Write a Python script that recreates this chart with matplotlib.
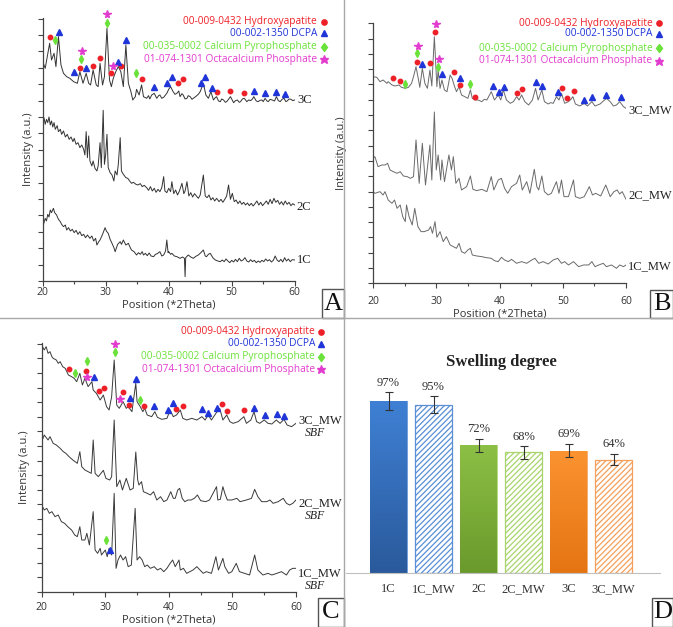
import numpy as np
import matplotlib
matplotlib.use("Agg")
import matplotlib.pyplot as plt
from matplotlib.lines import Line2D
from matplotlib.patches import Rectangle
from matplotlib.colors import LinearSegmentedColormap
from matplotlib.ticker import MultipleLocator

W, H = 673, 627
SANS = ["Open Sans", "DejaVu Sans"]
SERIF = ["Liberation Serif", "DejaVu Serif"]

# ---------------- XRD patterns: (2theta, intensity a.u.) ----------------
# panel A
a_3c = np.array([
    (20.0, 658), (20.4, 638), (21.1, 713), (21.4, 663), (21.8, 683), (22.1, 643), (22.5, 733), (22.9, 648),
    (23.3, 623), (23.8, 613), (24.3, 608), (24.9, 598), (25.5, 593), (25.9, 628), (26.4, 593), (26.9, 623),
    (27.3, 593), (27.6, 588), (28.0, 633), (28.5, 588), (28.8, 583), (29.1, 653), (29.5, 588), (29.8, 613),
    (30.2, 758), (30.6, 603), (30.9, 583), (31.2, 608), (31.6, 628), (32.0, 643), (32.4, 628), (32.8, 583),
    (33.2, 708), (33.6, 593), (34.0, 568), (34.3, 543), (34.7, 553), (34.9, 575), (35.3, 558), (35.7, 588),
    (36.0, 553), (36.5, 548), (36.8, 556), (37.0, 546), (37.3, 558), (37.7, 563), (38.1, 548), (38.4, 556),
    (38.6, 558), (38.9, 548), (39.2, 551), (39.7, 563), (40.0, 575), (40.3, 583), (40.7, 568), (41.0, 560),
    (41.3, 563), (41.6, 570), (41.8, 553), (42.1, 562), (42.3, 558), (42.6, 546), (42.9, 548), (43.1, 556),
    (43.4, 553), (43.7, 545), (43.9, 548), (44.2, 552), (44.4, 555), (44.7, 560), (45.0, 568), (45.5, 593),
    (45.9, 558), (46.3, 548), (46.7, 568), (47.1, 543), (47.4, 550), (47.6, 553), (47.9, 540), (48.2, 538),
    (48.4, 546), (48.7, 543), (49.0, 536), (49.2, 538), (49.5, 545), (49.8, 553), (50.3, 535), (50.6, 541),
    (50.9, 543), (51.2, 536), (51.4, 538), (51.7, 546), (52.0, 548), (52.4, 538), (52.7, 543), (53.0, 541),
    (53.3, 546), (53.5, 553), (53.9, 540), (54.2, 538), (54.5, 542), (54.8, 543), (55.0, 538), (55.3, 548),
    (55.6, 540), (55.8, 538), (56.1, 545), (56.4, 543), (56.8, 540), (57.1, 553), (57.4, 541), (57.7, 538),
    (58.0, 545), (58.3, 548), (58.6, 538), (58.8, 540), (59.1, 546), (59.4, 545), (59.7, 541), (60.0, 543)])
a_2c = np.array([
    (20.0, 478), (20.2, 490), (20.4, 470), (20.6, 485), (20.8, 475), (21.0, 492), (21.2, 468), (21.4, 480),
    (21.6, 462), (21.8, 475), (22.0, 455), (22.3, 466), (22.5, 448), (22.8, 455), (23.0, 440), (23.3, 450),
    (23.6, 432), (23.9, 440), (24.2, 425), (24.5, 432), (24.8, 418), (25.0, 428), (25.3, 410), (25.6, 415),
    (25.9, 400), (26.2, 408), (26.5, 395), (26.7, 378), (26.9, 448), (27.1, 370), (27.3, 435), (27.5, 360),
    (27.8, 345), (28.0, 360), (28.3, 338), (28.6, 330), (28.8, 345), (29.1, 415), (29.3, 340), (29.6, 512),
    (29.8, 350), (30.0, 380), (30.2, 440), (30.4, 340), (30.7, 325), (31.0, 318), (31.3, 300), (31.5, 330),
    (31.8, 318), (32.0, 350), (32.3, 430), (32.5, 330), (32.8, 320), (33.2, 310), (33.5, 308), (33.8, 300),
    (34.1, 293), (34.4, 296), (34.8, 290), (35.1, 288), (35.5, 292), (35.8, 283), (36.1, 287), (36.5, 280),
    (36.8, 272), (37.1, 283), (37.4, 270), (37.7, 278), (38.0, 266), (38.3, 275), (38.6, 268), (38.9, 280),
    (39.2, 313), (39.4, 270), (39.7, 265), (40.0, 278), (40.3, 268), (40.5, 298), (40.8, 262), (41.1, 273),
    (41.4, 258), (41.7, 270), (42.1, 293), (42.4, 262), (42.6, 270), (42.9, 298), (43.2, 255), (43.5, 265),
    (43.8, 252), (44.1, 262), (44.4, 255), (44.7, 248), (45.0, 258), (45.5, 318), (45.8, 255), (46.1, 250),
    (46.4, 258), (46.7, 243), (47.0, 250), (47.3, 240), (47.6, 248), (48.0, 238), (48.3, 245), (48.6, 236),
    (48.9, 245), (49.2, 255), (49.5, 288), (49.8, 245), (50.1, 263), (50.4, 238), (50.7, 243), (51.0, 232),
    (51.3, 240), (51.6, 230), (51.9, 236), (52.2, 228), (52.5, 234), (52.8, 226), (53.1, 233), (53.4, 225),
    (53.7, 232), (54.0, 240), (54.3, 228), (54.6, 236), (54.9, 226), (55.2, 233), (55.5, 240), (55.8, 230),
    (56.1, 245), (56.4, 232), (56.7, 248), (57.0, 236), (57.3, 242), (57.6, 230), (57.9, 238), (58.2, 228),
    (58.5, 240), (58.8, 230), (59.1, 236), (59.4, 226), (59.7, 232), (60.0, 228)])
a_1c = np.array([
    (20.0, 158), (20.2, 175), (20.4, 188), (20.6, 180), (20.8, 200), (21.0, 192), (21.2, 213), (21.4, 205),
    (21.7, 218), (21.9, 205), (22.2, 198), (22.5, 185), (22.8, 178), (23.0, 170), (23.3, 163), (23.6, 168),
    (23.8, 153), (24.1, 160), (24.4, 150), (24.7, 155), (25.0, 145), (25.3, 152), (25.6, 140), (25.9, 148),
    (26.2, 136), (26.5, 140), (26.8, 130), (27.1, 138), (27.5, 128), (27.8, 135), (28.1, 120), (28.4, 128),
    (28.6, 108), (28.9, 118), (29.1, 123), (29.5, 140), (29.9, 160), (30.1, 150), (30.4, 143), (30.7, 125),
    (31.0, 113), (31.3, 100), (31.5, 88), (31.9, 110), (32.3, 118), (32.5, 110), (32.8, 123), (33.2, 108),
    (33.6, 113), (33.9, 100), (34.1, 93), (34.5, 88), (34.9, 78), (35.2, 85), (35.5, 80), (35.8, 88),
    (36.0, 78), (36.3, 83), (36.6, 76), (36.9, 84), (37.2, 75), (37.6, 73), (37.9, 80), (38.2, 82),
    (38.6, 88), (38.9, 75), (39.2, 78), (39.5, 90), (39.7, 123), (39.9, 85), (40.0, 88), (40.3, 80),
    (40.5, 83), (40.9, 75), (41.3, 73), (41.6, 70), (41.8, 68), (42.2, 72), (42.5, 68), (42.6, 13),
    (42.7, 70), (43.1, 78), (43.5, 72), (43.9, 68), (44.3, 74), (44.7, 78), (45.1, 85), (45.5, 93),
    (45.8, 75), (46.0, 73), (46.3, 80), (46.6, 83), (47.0, 70), (47.4, 63), (47.8, 60), (48.2, 58),
    (48.5, 63), (48.8, 58), (49.1, 66), (49.4, 60), (49.7, 55), (50.0, 62), (50.3, 57), (50.6, 65),
    (50.9, 58), (51.2, 68), (51.5, 60), (51.8, 63), (52.1, 70), (52.4, 60), (52.7, 57), (53.0, 64),
    (53.3, 58), (53.6, 62), (53.9, 55), (54.2, 60), (54.5, 56), (54.8, 62), (55.1, 58), (55.4, 66),
    (55.7, 60), (56.0, 64), (56.3, 57), (56.6, 62), (56.9, 75), (57.2, 63), (57.5, 58), (57.8, 65),
    (58.1, 57), (58.4, 70), (58.7, 60), (59.0, 66), (59.3, 58), (59.6, 64), (60.0, 63)])

# panel B
b_3c = np.array([
    (20.0, 620), (20.6, 618), (21.1, 605), (21.6, 610), (22.2, 600), (22.4, 605), (23.0, 595), (23.5, 592),
    (24.1, 595), (24.5, 588), (25.1, 585), (25.6, 588), (26.1, 600), (26.4, 620), (26.8, 650), (27.2, 610),
    (27.4, 588), (27.8, 645), (28.2, 600), (28.6, 585), (29.0, 640), (29.3, 592), (29.7, 740), (30.1, 590),
    (30.3, 640), (30.6, 585), (30.9, 610), (31.3, 580), (31.7, 575), (32.2, 625), (32.5, 615), (32.9, 590),
    (33.2, 575), (33.6, 590), (34.0, 565), (34.5, 560), (35.0, 555), (35.4, 580), (35.7, 555), (36.1, 550),
    (36.6, 550), (37.2, 545), (37.6, 552), (38.0, 550), (38.7, 575), (39.2, 550), (39.8, 565), (40.2, 550),
    (40.6, 580), (41.1, 550), (41.7, 540), (42.2, 545), (42.7, 560), (43.1, 550), (43.5, 565), (44.0, 545),
    (44.6, 535), (45.2, 550), (45.7, 585), (46.1, 550), (46.7, 580), (47.1, 545), (47.7, 538), (48.1, 542),
    (48.5, 540), (49.0, 560), (49.4, 550), (49.8, 570), (50.3, 540), (50.9, 545), (51.3, 552), (51.6, 560),
    (52.0, 538), (52.7, 532), (53.4, 540), (53.9, 532), (54.6, 545), (55.1, 532), (55.9, 538), (56.6, 550),
    (56.9, 555), (57.5, 545), (58.0, 532), (58.5, 535), (59.0, 545), (59.6, 530), (60.0, 525)])
b_2c = np.array([
    (20.0, 375), (20.3, 380), (20.8, 350), (21.4, 355), (21.9, 355), (22.3, 360), (22.7, 340), (23.2, 335),
    (23.8, 330), (24.3, 335), (24.8, 322), (25.4, 320), (25.9, 315), (26.4, 320), (26.8, 430), (27.3, 300),
    (27.8, 420), (28.3, 295), (29.0, 415), (29.3, 310), (29.7, 514), (30.0, 340), (30.3, 385), (30.7, 310),
    (30.9, 370), (31.3, 305), (32.0, 385), (32.4, 340), (32.7, 380), (33.1, 300), (33.6, 315), (34.0, 280),
    (34.8, 290), (35.4, 322), (35.8, 282), (36.4, 278), (37.2, 282), (38.0, 275), (38.7, 320), (39.1, 280),
    (39.8, 310), (40.3, 315), (40.8, 285), (41.3, 270), (41.9, 290), (42.7, 300), (43.2, 325), (43.6, 280),
    (44.3, 305), (44.8, 270), (45.5, 342), (45.9, 290), (46.2, 280), (46.7, 322), (47.1, 275), (47.7, 265),
    (48.2, 270), (49.0, 305), (49.4, 270), (49.8, 310), (50.2, 260), (50.9, 260), (51.7, 310), (52.0, 260),
    (52.7, 255), (53.4, 260), (54.2, 290), (54.7, 265), (55.2, 270), (56.0, 262), (56.8, 295), (57.5, 260),
    (58.1, 275), (58.6, 280), (59.0, 268), (59.4, 275), (60.0, 252)])
b_1c = np.array([
    (20.0, 275), (20.3, 270), (21.1, 275), (21.6, 265), (21.9, 275), (22.4, 250), (23.0, 240), (23.4, 250),
    (23.8, 225), (24.3, 235), (24.7, 200), (25.1, 185), (25.3, 235), (25.7, 200), (26.2, 175), (26.6, 225),
    (27.1, 170), (27.6, 155), (28.1, 155), (28.8, 160), (29.1, 170), (29.4, 150), (29.8, 185), (30.1, 138),
    (30.6, 155), (31.1, 125), (31.6, 140), (32.2, 115), (32.7, 110), (33.2, 105), (33.6, 120), (34.0, 95),
    (34.5, 90), (35.0, 100), (35.4, 105), (35.7, 85), (36.4, 82), (37.2, 80), (37.9, 77), (38.7, 75),
    (39.2, 68), (39.8, 65), (40.3, 78), (40.8, 70), (41.4, 65), (41.9, 72), (42.7, 60), (43.5, 65),
    (44.3, 60), (45.1, 70), (45.6, 75), (46.2, 60), (46.9, 65), (47.7, 58), (48.5, 70), (49.2, 75),
    (49.8, 60), (50.3, 65), (50.9, 55), (51.7, 65), (52.5, 50), (53.3, 55), (54.1, 55), (54.6, 65),
    (55.1, 50), (55.7, 55), (56.4, 60), (56.9, 50), (57.7, 55), (58.5, 45), (59.0, 55), (59.6, 50), (60.0, 55)])

# panel C (after SBF)
c_3c = np.array([
    (20.0, 741), (20.4, 726), (20.7, 736), (21.0, 716), (21.3, 721), (21.6, 706), (21.8, 701), (22.3, 696),
    (22.6, 686), (22.9, 691), (23.3, 676), (23.7, 671), (24.2, 651), (24.7, 646), (25.1, 641), (25.5, 631),
    (26.0, 656), (26.4, 621), (26.8, 641), (27.3, 616), (27.9, 631), (28.1, 606), (28.6, 596), (29.2, 576),
    (29.7, 591), (30.2, 556), (30.6, 546), (31.0, 586), (31.4, 696), (31.8, 561), (32.2, 551), (32.8, 571),
    (33.3, 551), (33.6, 556), (34.2, 541), (34.4, 571), (34.8, 626), (35.0, 571), (35.5, 556), (35.9, 541),
    (36.2, 551), (36.6, 531), (37.3, 526), (37.8, 541), (38.2, 524), (38.9, 518), (39.7, 521), (40.2, 546),
    (40.7, 526), (41.2, 531), (41.8, 546), (42.2, 521), (42.8, 516), (43.6, 521), (44.4, 516), (45.2, 526),
    (45.7, 516), (46.2, 531), (46.7, 516), (47.4, 536), (48.0, 551), (48.5, 516), (49.1, 531), (49.6, 511),
    (50.1, 506), (50.9, 511), (51.8, 526), (52.2, 506), (52.9, 516), (53.4, 541), (53.8, 511), (54.3, 506),
    (55.0, 516), (55.6, 506), (56.2, 504), (56.9, 516), (57.5, 506), (58.1, 518), (58.6, 501), (59.3, 496),
    (60.0, 506)])
c_2c = np.array([
    (20.0, 451), (20.4, 471), (21.0, 456), (21.3, 466), (21.8, 446), (22.3, 441), (22.9, 431), (23.4, 421),
    (23.8, 416), (24.3, 406), (24.9, 396), (25.6, 386), (26.0, 421), (26.3, 376), (26.8, 366), (27.3, 361),
    (27.8, 356), (28.1, 456), (28.4, 356), (28.9, 346), (29.7, 365), (30.1, 341), (30.7, 336), (31.0, 346),
    (31.4, 516), (31.8, 316), (32.3, 336), (32.7, 306), (33.3, 341), (33.9, 306), (34.4, 311), (34.8, 420),
    (35.1, 336), (35.3, 321), (35.7, 331), (36.0, 301), (36.6, 296), (37.1, 291), (37.6, 301), (38.1, 276),
    (38.7, 286), (39.2, 271), (39.7, 276), (40.3, 301), (40.7, 281), (41.0, 281), (41.4, 306), (41.7, 311),
    (42.1, 281), (42.5, 271), (43.0, 276), (43.5, 276), (44.0, 281), (44.5, 291), (45.0, 274), (45.8, 271),
    (46.4, 276), (47.5, 316), (47.7, 276), (48.1, 278), (48.5, 316), (48.8, 296), (49.2, 276), (49.9, 276),
    (50.7, 281), (51.2, 271), (52.2, 276), (53.0, 281), (53.5, 308), (54.0, 286), (54.6, 271), (55.4, 271),
    (55.9, 276), (56.4, 266), (57.2, 271), (58.0, 281), (58.5, 266), (59.0, 261), (59.5, 266), (60.0, 276)])
c_1c = np.array([
    (20.0, 261), (20.4, 246), (20.8, 251), (21.2, 236), (21.6, 241), (22.1, 226), (22.6, 231), (23.1, 211),
    (23.6, 206), (24.1, 196), (24.7, 186), (25.2, 171), (25.6, 166), (26.0, 196), (26.3, 156), (26.8, 156),
    (27.1, 176), (27.5, 141), (28.1, 241), (28.4, 126), (28.8, 116), (29.2, 131), (29.4, 111), (30.0, 126),
    (30.3, 106), (30.6, 131), (31.0, 111), (31.4, 296), (31.7, 71), (32.0, 96), (32.4, 111), (32.8, 96),
    (33.2, 106), (33.6, 76), (34.1, 81), (34.7, 251), (35.0, 96), (35.4, 106), (35.8, 96), (36.2, 76),
    (36.6, 81), (37.1, 71), (37.7, 76), (38.2, 66), (38.7, 71), (39.2, 61), (39.7, 71), (40.2, 86),
    (40.6, 96), (41.0, 76), (41.6, 96), (41.8, 66), (42.3, 71), (42.8, 56), (43.3, 61), (43.8, 66),
    (44.4, 76), (44.9, 66), (45.4, 56), (45.9, 61), (46.7, 56), (47.4, 106), (47.8, 66), (48.5, 101),
    (48.8, 76), (49.4, 56), (49.9, 61), (50.6, 86), (51.1, 61), (51.9, 56), (52.7, 51), (53.5, 111),
    (54.0, 66), (54.8, 51), (55.6, 56), (56.2, 51), (57.0, 56), (57.7, 61), (58.5, 51), (59.0, 66),
    (59.5, 71), (60.0, 71)])

# phase identification marks (2theta, intensity)
phases = ["00-009-0432 Hydroxyapatite", "00-002-1350 DCPA",
          "00-035-0002 Calcium Pyrophosphate", "01-074-1301 Octacalcium Phosphate"]
a_marks = [
    [(21.1, 733), (25.9, 638), (28.0, 645), (29.1, 668), (30.9, 623), (32.5, 645), (35.7, 605),
     (41.4, 595), (42.2, 605), (47.7, 568), (49.8, 571), (52.0, 563)],
    [(22.6, 748), (24.9, 628), (26.9, 638), (32.0, 656), (33.2, 723), (37.7, 581), (39.8, 593),
     (40.6, 611), (45.1, 593), (45.8, 611), (46.8, 580), (53.5, 570), (55.3, 563), (57.1, 566), (58.4, 561)],
    [(21.9, 723), (26.0, 666), (30.2, 775), (34.8, 623)],
    [(26.2, 691), (30.2, 801), (31.1, 645)]]
b_marks = [
    [(23.2, 615), (24.3, 608), (26.9, 665), (29.0, 662), (29.8, 755), (32.8, 633), (33.7, 595),
     (36.2, 560), (42.7, 570), (43.5, 582), (49.9, 587), (50.7, 555), (51.7, 577)],
    [(27.8, 657), (30.9, 628), (33.8, 615), (38.9, 592), (39.9, 574), (40.7, 590), (45.7, 603),
     (46.7, 593), (49.2, 575), (53.4, 550), (54.7, 558), (56.9, 565), (59.2, 558)],
    [(25.1, 598), (27.0, 692), (30.3, 650), (35.4, 598)],
    [(27.1, 713), (30.0, 777), (30.4, 673)]]
c_marks = [
    [(24.3, 668), (26.9, 664), (29.0, 603), (29.8, 613), (32.8, 599), (33.8, 561), (36.1, 559),
     (41.2, 549), (42.2, 559), (48.3, 563), (49.2, 544), (51.8, 546)],
    [(28.3, 644), (33.9, 581), (34.9, 638), (37.7, 559), (39.8, 546), (40.6, 566), (45.2, 548),
     (46.1, 538), (47.5, 551), (53.4, 551), (55.1, 531), (57.0, 534), (58.1, 529), (30.7, 126)],
    [(25.2, 658), (27.1, 693), (31.5, 719), (35.5, 576), (30.1, 156)],
    [(27.1, 644), (31.5, 743), (32.3, 579)]]

# swelling degree
samples = ["1C", "1C_MW", "2C", "2C_MW", "3C", "3C_MW"]
swelling = [97, 95, 72, 68, 69, 64]
swelling_err = [4.9, 4.8, 3.8, 3.5, 3.8, 3.3]

# ---------------- styles ----------------
ph_colors = ["#ee2027", "#2035d8", "#6be23a", "#e23ccf"]
ph_markers = ["o", "^", "d", "*"]
ph_sizes = [3.2, 3.7, 3.7, 5.8]

fig = plt.figure(figsize=(W / 100, H / 100), dpi=100)


def px_axes(l, t, r, b):
    return fig.add_axes([l / W, 1 - b / H, (r - l) / W, (b - t) / H])


def xrd_panel(box, ymax, ystep, traces, names, name_y, marks, legend_px, label_pad, ylab_pad, col):
    ax = px_axes(*box)
    l, t, r, b = box
    for tr in traces:
        ax.plot(tr[:, 0], tr[:, 1], color=col, lw=0.7)
    for pts, c, m, s in zip(marks, ph_colors, ph_markers, ph_sizes):
        pts = np.array(pts)
        ax.plot(pts[:, 0], pts[:, 1], ls="none", marker=m, ms=s, color=c, mec=c, clip_on=False, zorder=5)
    for nm, ny in zip(names, name_y):
        lines = nm.split("\n")
        ax.text(60.35, ny, lines[0], fontsize=9, family=SERIF, va="center", ha="left", color="#222")
        if len(lines) > 1:
            ax.text(62.9, ny - 40, lines[1], fontsize=8.5, family=SERIF, style="italic",
                    va="center", ha="center", color="#222")
    # legend of phases
    tx, mx, ys = legend_px
    for txt, c, m, s, yy in zip(phases, ph_colors, ph_markers, ph_sizes, ys):
        fy = (b - yy) / (b - t)
        ax.text((tx - l) / (r - l), fy, txt, transform=ax.transAxes, fontsize=7.3, family=SANS,
                color=c, ha="right", va="center")
        ax.plot([(mx - l) / (r - l)], [fy], transform=ax.transAxes, marker=m, ms=s + 0.6, color=c,
                clip_on=False)
    ax.set_xlim(20, 60)
    ax.set_ylim(0, ymax)
    ax.xaxis.set_major_locator(MultipleLocator(10))
    ax.xaxis.set_minor_locator(MultipleLocator(5))
    ax.yaxis.set_major_locator(MultipleLocator(ystep))
    ax.set_yticklabels([])
    for s in ("top", "right"):
        ax.spines[s].set_visible(False)
    for s in ("left", "bottom"):
        ax.spines[s].set_color("#444")
        ax.spines[s].set_linewidth(0.9)
    ax.tick_params(which="both", direction="out", color="#444", width=0.8, labelsize=7.5,
                   labelcolor="#333", pad=label_pad)
    ax.tick_params(which="major", length=3.5)
    ax.tick_params(which="minor", length=2.5)
    for lab in ax.get_xticklabels():
        lab.set_family(SANS)
    ax.set_xlabel("Position (*2Theta)", fontsize=8, family=SANS, color="#333", labelpad=1)
    ax.set_ylabel("Intensity (a.u.)", fontsize=8, family=SANS, color="#333", labelpad=ylab_pad)
    return ax


xrd_panel((42.7, 18.3, 294.7, 281), 788, 49.2, [a_3c, a_2c, a_1c], ["3C", "2C", "1C"],
          [543, 222, 63], a_marks, (317, 324, [21.7, 33.3, 46.7, 59.3]), 1.0, 1.5, "#333")
xrd_panel((373, 23, 626, 283.3), 781, 45.9, [b_3c, b_2c, b_1c], ["3C_MW", "2C_MW", "1C_MW"],
          [520, 265, 52], b_marks, (652.5, 658.5, [23.3, 34.0, 48.3, 61.0]), 5.5, 10, "#6a6a6a")
xrd_panel((41.7, 343, 296, 592), 747, 43.8, [c_3c, c_2c, c_1c],
          ["3C_MW\nSBF", "2C_MW\nSBF", "1C_MW\nSBF"],
          [516, 267, 57], c_marks, (315, 321, [331.7, 344.0, 356.7, 369.3]), 3.5, 1.5, "#3a3a3a")

# ---------------- swelling degree bars ----------------
axd = px_axes(346, 340, 660, 573)
x = np.arange(len(samples))
grad_top = ["#3f80d4", "#8cbf45", "#fa9330"]
grad_bot = ["#2a5a9c", "#6a9a2c", "#e57512"]
light = ["#5a8fd6", "#a8d46c", "#f4a05c"]
plt.rcParams["hatch.linewidth"] = 0.9
for i in range(len(samples)):
    k = i // 2
    if i % 2 == 0:
        bar = axd.bar(x[i], swelling[i], width=0.815, color="none", edgecolor=light[k], lw=0.6)[0]
        cmap = LinearSegmentedColormap.from_list("g", [grad_bot[k], grad_top[k]])
        img = axd.imshow(np.linspace(0, 1, 64).reshape(-1, 1), cmap=cmap, origin="lower", aspect="auto",
                         extent=(x[i] - 0.41, x[i] + 0.41, 0, swelling[i]), zorder=1)
        img.set_clip_path(bar)
    else:
        axd.bar(x[i], swelling[i], width=0.815, facecolor="white", edgecolor=light[k],
                hatch="//////", lw=0.9)
    axd.errorbar(x[i], swelling[i], yerr=swelling_err[i], color="#333", lw=0.8, capsize=3,
                 capthick=0.8, zorder=4)
    axd.annotate(f"{swelling[i]}%", (x[i], swelling[i] + swelling_err[i]), xytext=(0, 2.5),
                 textcoords="offset points", ha="center", va="bottom", fontsize=9,
                 family=SERIF, color="#333")
axd.set_xlim(-0.944, 6.03)
axd.set_ylim(0, 131.4)
axd.set_aspect("auto")
axd.set_xticks(x)
axd.set_xticklabels(samples, family=SERIF, fontsize=9, color="#333")
axd.tick_params(length=0, pad=7.5)
axd.set_yticks([])
for s in ("top", "right", "left"):
    axd.spines[s].set_visible(False)
axd.spines["bottom"].set_color("#c0c0c0")
axd.spines["bottom"].set_linewidth(0.8)
axd.text(0.494, 0.906, "Swelling degree", transform=axd.transAxes, ha="center", va="center",
         fontsize=12, fontweight="bold", family=SERIF, color="#222")

# ---------------- panel dividers and letters ----------------
fig.add_artist(Line2D([344 / W, 344 / W], [0, 1], color="#a8a8a8", lw=1))
fig.add_artist(Line2D([0, 1], [1 - 318 / H, 1 - 318 / H], color="#a8a8a8", lw=1))
for letter, (l, t, r, b) in zip("ABCD", [(322, 289, 344, 318), (650, 290, 673, 318),
                                         (318, 598, 344, 627), (652, 598, 673, 627)]):
    fig.add_artist(Rectangle((l / W, 1 - b / H), (r - l) / W, (b - t) / H, transform=fig.transFigure,
                             fill=False, edgecolor="#555", lw=1))
    fig.text((l + r) / 2 / W, 1 - (t + b) / 2 / H, letter, ha="center", va="center", fontsize=19,
             family=SERIF, color="#111")

fig.savefig("out.png", dpi=100)
